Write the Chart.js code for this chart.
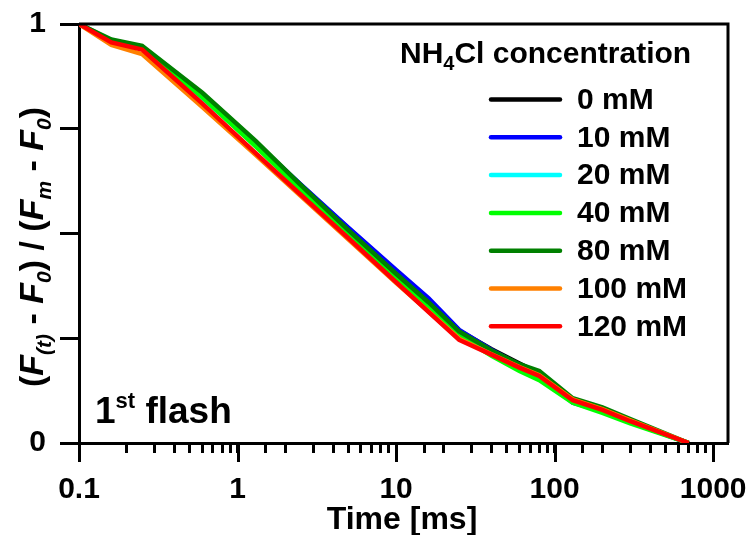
<!DOCTYPE html>
<html>
<head>
<meta charset="utf-8">
<script src="https://cdn.jsdelivr.net/npm/chart.js@4.4.1/dist/chart.umd.min.js"></script>
<style>
  html, body { margin: 0; padding: 0; background: #fff; }
</style>
</head>
<body>
<canvas id="chart" width="750" height="535"></canvas>
<script>
// time points (ms) and normalised fluorescence for each NH4Cl concentration
const times = [0.1, 0.16, 0.25, 0.6, 1.3, 2.5, 5, 10, 16, 25, 40, 60, 80, 130, 200, 300, 700];

const c0   = [1, 0.960, 0.945, 0.828, 0.716, 0.616, 0.512, 0.410, 0.342, 0.268, 0.224, 0.190, 0.166, 0.100, 0.078, 0.051, 0];
const c10  = [1, 0.960, 0.945, 0.828, 0.716, 0.617, 0.514, 0.413, 0.346, 0.270, 0.222, 0.186, 0.162, 0.096, 0.076, 0.050, 0];
const c20  = [1, 0.960, 0.946, 0.823, 0.711, 0.610, 0.505, 0.401, 0.332, 0.262, 0.216, 0.180, 0.158, 0.100, 0.077, 0.050, 0];
const c40  = [1, 0.960, 0.945, 0.825, 0.708, 0.605, 0.500, 0.396, 0.326, 0.256, 0.208, 0.172, 0.150, 0.096, 0.072, 0.047, 0];
const c80  = [1, 0.963, 0.948, 0.836, 0.721, 0.616, 0.508, 0.404, 0.336, 0.266, 0.221, 0.188, 0.172, 0.107, 0.085, 0.057, 0];
const c100 = [1, 0.950, 0.928, 0.802, 0.688, 0.590, 0.486, 0.382, 0.314, 0.249, 0.212, 0.181, 0.162, 0.104, 0.081, 0.054, 0];
const c120 = [1, 0.956, 0.939, 0.810, 0.692, 0.593, 0.489, 0.384, 0.313, 0.246, 0.211, 0.180, 0.160, 0.102, 0.079, 0.052, 0];

const seriesLabels = ["0 mM", "10 mM", "20 mM", "40 mM", "80 mM", "100 mM", "120 mM"];
const seriesValues = [c0, c10, c20, c40, c80, c100, c120];
const seriesColors = ["#000000", "#0000ff", "#00ffff", "#00ff00", "#008000", "#ff8000", "#ff0000"];

const yTicks = [0, 0.25, 0.5, 0.75, 1];
const yLabelled = [0, 1];
const xLabelled = [0.1, 1, 10, 100, 1000];

const FAMILY = '"Liberation Sans", Arial, sans-serif';
Chart.defaults.font.family = FAMILY;
Chart.defaults.font.weight = "bold";
Chart.defaults.color = "#000";

function fontOf(p) {
  return (p.italic ? "italic " : "") + "bold " + p.size + "px " + FAMILY;
}

// draw a row of text pieces (for sub/superscripts), y is the baseline
function drawParts(ctx, parts, x, y, align) {
  let w = 0;
  parts.forEach(p => {
    ctx.font = fontOf(p);
    p.w = ctx.measureText(p.t).width;
    w += p.w;
  });
  let cx = align === "center" ? x - w / 2 : x;
  ctx.textAlign = "left";
  ctx.textBaseline = "alphabetic";
  parts.forEach(p => {
    ctx.font = fontOf(p);
    ctx.fillText(p.t, cx, y + (p.dy || 0));
    cx += p.w;
  });
}

const isDecade = v => Math.abs(Math.log10(v) - Math.round(Math.log10(v))) < 1e-9;

const decorations = {
  id: "decorations",
  afterDraw(chart) {
    const ctx = chart.ctx;
    const area = chart.chartArea;
    const xs = chart.scales.x;
    ctx.save();
    ctx.fillStyle = "#000";
    ctx.strokeStyle = "#000";
    ctx.lineCap = "butt";

    // top and right frame
    ctx.lineWidth = 3;
    ctx.beginPath();
    ctx.moveTo(area.left, area.top);
    ctx.lineTo(area.right, area.top);
    ctx.lineTo(area.right, area.bottom);
    ctx.stroke();

    // longer ticks at decades
    ctx.beginPath();
    xs.ticks.forEach(t => {
      if (isDecade(t.value)) {
        const px = Math.round(xs.getPixelForValue(t.value)) + 0.5;
        ctx.moveTo(px, area.bottom);
        ctx.lineTo(px, area.bottom + 19);
      }
    });
    ctx.stroke();

    // x axis title
    drawParts(ctx, [{ t: "Time [ms]", size: 32 }], 402, 529, "center");

    // y axis title
    ctx.save();
    ctx.translate(31, 247);
    ctx.rotate(-Math.PI / 2);
    drawParts(ctx, [
      { t: "(", size: 34 },
      { t: "F", size: 34, italic: true },
      { t: "(t)", size: 21, italic: true, dy: 8 },
      { t: " - ", size: 34 },
      { t: "F", size: 34, italic: true },
      { t: "0", size: 21, italic: true, dy: 8 },
      { t: ") / (", size: 34 },
      { t: "F", size: 34, italic: true },
      { t: "m", size: 21, italic: true, dy: 8 },
      { t: " - ", size: 34 },
      { t: "F", size: 34, italic: true },
      { t: "0", size: 21, italic: true, dy: 8 },
      { t: ")", size: 34 }
    ], 0, 12, "center");
    ctx.restore();

    // panel label
    drawParts(ctx, [
      { t: "1", size: 37 },
      { t: "st", size: 22, dy: -15 },
      { t: " flash", size: 37 }
    ], area.left + 16, 423, "left");

    // legend
    drawParts(ctx, [
      { t: "NH", size: 30 },
      { t: "4", size: 20, dy: 7 },
      { t: "Cl concentration", size: 30 }
    ], 400, 63, "left");

    chart.data.datasets.forEach((ds, i) => {
      const y = 99.5 + i * 37.8;
      ctx.strokeStyle = ds.borderColor;
      ctx.lineWidth = 4.5;
      ctx.lineCap = "round";
      ctx.beginPath();
      ctx.moveTo(491, y);
      ctx.lineTo(560, y);
      ctx.stroke();
      ctx.font = fontOf({ size: 30 });
      ctx.textAlign = "left";
      ctx.textBaseline = "middle";
      ctx.fillText(ds.label, 577, y + 1);
    });
    ctx.restore();
  }
};

const datasets = seriesValues.map((vals, i) => ({
  label: seriesLabels[i],
  data: times.map((t, j) => ({ x: t, y: vals[j] })),
  borderColor: seriesColors[i],
  backgroundColor: seriesColors[i],
  borderWidth: 4.5,
  pointRadius: 0,
  tension: 0,
  fill: false,
  order: seriesValues.length - i
}));

new Chart(document.getElementById("chart").getContext("2d"), {
  type: "line",
  data: { datasets: datasets },
  options: {
    responsive: false,
    animation: false,
    events: [],
    layout: { padding: { top: 24, right: 22, left: 0, bottom: 0 } },
    plugins: {
      legend: { display: false },
      tooltip: { enabled: false }
    },
    scales: {
      x: {
        type: "logarithmic",
        min: 0.1,
        max: 1240,
        afterBuildTicks: scale => {
          scale.ticks = scale.ticks.filter(t => t.value <= 1000 + 1e-9);
        },
        afterFit: scale => {
          scale.height = 92;
          scale.paddingLeft = 0;
          scale.paddingRight = 0;
        },
        border: { display: true, color: "#000", width: 3 },
        grid: {
          drawOnChartArea: false,
          drawTicks: true,
          tickLength: 10,
          tickWidth: 3,
          tickColor: "#000"
        },
        ticks: {
          autoSkip: false,
          maxRotation: 0,
          padding: 19,
          font: { size: 30, weight: "bold" },
          color: "#000",
          callback: value => {
            const hit = xLabelled.find(v => Math.abs(v - value) < 1e-9);
            return hit !== undefined ? String(hit) : "";
          }
        }
      },
      y: {
        type: "linear",
        min: 0,
        max: 1,
        afterBuildTicks: scale => {
          scale.ticks = yTicks.map(v => ({ value: v }));
        },
        afterFit: scale => {
          scale.width = 79;
          scale.paddingTop = 0;
          scale.paddingBottom = 0;
        },
        border: { display: true, color: "#000", width: 3 },
        grid: {
          drawOnChartArea: false,
          drawTicks: true,
          tickLength: 19,
          tickWidth: 3,
          tickColor: "#000"
        },
        ticks: {
          padding: 14,
          font: { size: 30, weight: "bold" },
          color: "#000",
          callback: value => (yLabelled.includes(value) ? String(value) : "")
        }
      }
    }
  },
  plugins: [decorations]
});
</script>
</body>
</html>
